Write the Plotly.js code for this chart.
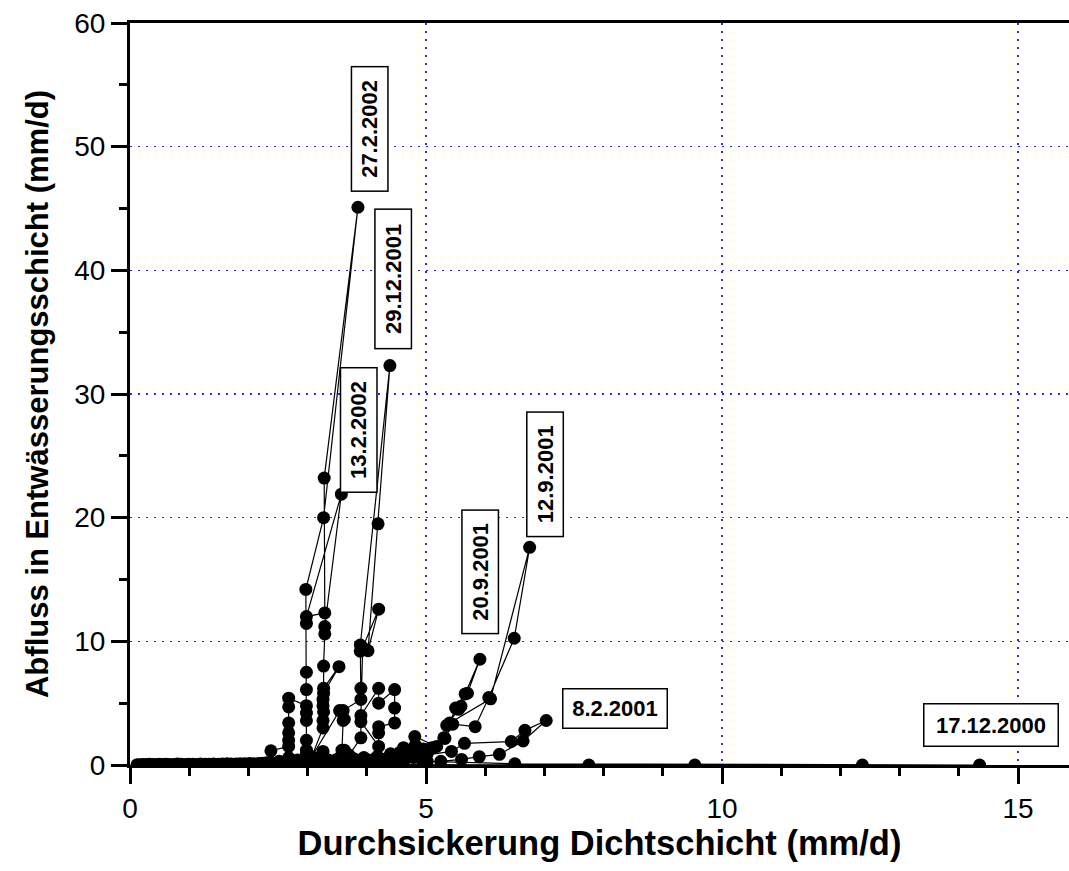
<!DOCTYPE html>
<html>
<head>
<meta charset="utf-8">
<script src="https://cdn.plot.ly/plotly-3.0.1.min.js"></script>
<style>
html, body { margin: 0; padding: 0; background: #ffffff; }
#chart { width: 1069px; height: 871px; }
</style>
</head>
<body>
<div id="chart"></div>
<script>
// ---- data ----
// x: Durchsickerung Dichtschicht (mm/d), y: Abfluss in Entwässerungsschicht (mm/d)
const winterX = [0.12, 0.17, 0.22, 0.28, 0.33, 0.39, 0.45, 0.50, 0.56, 0.61, 0.67, 0.74, 0.80, 0.86, 0.93, 0.99, 1.06, 1.12, 1.19, 1.27, 1.34, 1.41, 1.49, 1.56, 1.64, 1.71, 1.79, 1.86, 1.94, 2.02, 2.09, 2.17, 2.24, 2.31, 2.37];
const winterY = [0.02, 0.03, 0.05, 0.04, 0.06, 0.05, 0.04, 0.07, 0.05, 0.06, 0.04, 0.05, 0.08, 0.06, 0.05, 0.07, 0.06, 0.05, 0.08, 0.07, 0.06, 0.09, 0.07, 0.08, 0.10, 0.08, 0.09, 0.11, 0.10, 0.12, 0.10, 0.13, 0.15, 0.18, 0.20];

const dec2000X = [2.42, 4.95, 7.75, 9.54, 12.37, 14.35, 6.50, 5.02];
const dec2000Y = [0.05, 0.02, 0.00, 0.00, 0.00, 0.00, 0.10, 0.30];

const feb2001X = [4.55, 5.00, 5.43, 5.65, 6.44, 6.67, 7.03, 6.64, 6.24, 5.90, 5.60, 5.25];
const feb2001Y = [0.50, 0.80, 1.10, 1.75, 1.90, 2.80, 3.60, 1.95, 0.86, 0.67, 0.45, 0.30];

const sep2001X = [4.62, 4.81, 5.18, 5.32, 5.45, 5.83, 6.06, 6.49, 6.75, 6.09, 5.40, 5.35, 5.55, 5.59, 5.70, 5.91, 5.66, 5.50, 5.30, 5.10, 4.90];
const sep2001Y = [0.90, 2.30, 1.50, 2.15, 3.30, 3.10, 5.45, 10.25, 17.60, 5.35, 3.40, 3.20, 4.50, 4.75, 5.80, 8.55, 5.75, 4.60, 2.20, 1.40, 1.00];

const dec2001X = [3.30, 3.58, 3.60, 3.60, 3.90, 3.90, 3.89, 3.89, 4.39, 4.19, 4.02, 4.20, 3.93, 3.90, 4.20, 4.20, 4.47, 4.47, 4.47, 4.20, 4.20, 4.20, 3.90, 3.90, 3.70];
const dec2001Y = [0.50, 1.20, 3.60, 4.40, 5.30, 6.20, 9.20, 9.70, 32.30, 19.50, 9.24, 12.60, 9.50, 4.00, 6.20, 5.00, 6.10, 4.60, 3.40, 3.10, 2.60, 1.50, 3.50, 2.20, 0.80];

const feb2002X = [2.38, 2.68, 2.68, 2.68, 2.68, 2.68, 2.98, 2.98, 2.98, 2.98, 2.98, 2.98, 2.98, 2.98, 2.97, 3.27, 3.85, 3.28, 3.29, 2.98, 3.57, 3.29, 3.29, 3.27, 3.27, 3.53, 3.27, 3.26, 3.26, 3.27, 3.26, 3.26, 3.07, 3.54, 3.62];
const feb2002Y = [1.15, 1.50, 2.60, 3.40, 4.70, 5.40, 4.80, 4.20, 3.60, 2.00, 1.20, 6.10, 7.50, 11.45, 14.20, 20.00, 45.10, 23.20, 12.30, 12.00, 21.90, 11.20, 10.60, 8.00, 6.20, 7.95, 5.80, 5.30, 4.80, 4.30, 3.60, 3.00, 0.67, 4.40, 3.70];

const lowX = [2.45, 2.52, 2.60, 2.68, 2.68, 2.75, 2.83, 2.90, 2.98, 3.05, 3.15, 3.26, 3.35, 3.45, 3.55, 3.62, 3.70, 3.78, 3.86, 3.95, 4.03, 4.10, 4.18, 4.26, 4.33, 4.40, 4.48, 4.55, 4.62, 4.68, 4.75, 4.82, 4.88, 4.95, 5.02];
const lowY = [0.10, 0.30, 0.20, 2.00, 0.60, 0.20, 0.40, 0.30, 0.80, 0.20, 0.30, 1.10, 0.40, 0.20, 0.50, 1.20, 0.30, 0.50, 0.20, 0.60, 0.40, 0.30, 0.70, 0.40, 0.50, 0.90, 0.60, 1.00, 1.40, 0.80, 1.20, 1.60, 1.10, 1.30, 0.90];

const low2X = [2.50, 2.58, 2.72, 2.80, 2.88, 2.95, 3.02, 3.10, 3.20, 3.30, 3.40, 3.48, 3.58, 3.66, 3.74, 3.82, 3.90, 3.98, 4.06, 4.14, 4.22, 4.30, 4.37, 4.44, 4.52, 4.58, 4.65, 4.72, 4.79, 4.86, 4.92, 4.99];
const low2Y = [0.05, 0.15, 0.10, 0.25, 0.10, 0.20, 0.45, 0.15, 0.60, 0.25, 0.15, 0.35, 0.10, 0.70, 0.20, 0.40, 0.15, 0.30, 0.20, 0.50, 0.15, 0.30, 0.60, 0.25, 0.40, 0.70, 0.50, 0.90, 0.60, 1.00, 0.70, 0.50];

const labelTexts = ["27.2.2002", "29.12.2001", "13.2.2002", "20.9.2001", "12.9.2001", "8.2.2001", "17.12.2000"];
const xTitle = "Durchsickerung Dichtschicht (mm/d)";
const yTitle = "Abfluss in Entwässerungsschicht (mm/d)";

// ---- traces ----
const chains = [
  [winterX, winterY], [dec2000X, dec2000Y], [feb2001X, feb2001Y], [sep2001X, sep2001Y],
  [lowX, lowY], [low2X, low2Y], [dec2001X, dec2001Y], [feb2002X, feb2002Y]
];
const traces = chains.map(c => ({
  type: 'scatter', mode: 'lines+markers', x: c[0], y: c[1],
  line: { color: '#000000', width: 1.2 },
  marker: { color: '#000000', size: 13 },
  cliponaxis: true, hoverinfo: 'skip', showlegend: false
}));

const FAM = 'Arial, "Liberation Sans", sans-serif';
const tickFont = { family: FAM, size: 28, color: '#000000' };
const xTitleFont = { family: FAM, size: 34.5, color: '#000000', weight: 'bold' };
const yTitleFont = { family: FAM, size: 31, color: '#000000', weight: 'bold' };
const labelFont = { family: FAM, size: 22, color: '#000000', weight: 'bold' };

function vLabel(text, x, y, len) {
  return { text: '<b>' + text + '</b>', x: x, y: y, xref: 'x', yref: 'y', showarrow: false,
    textangle: -90, font: labelFont, bordercolor: '#000000', borderwidth: 1.5, borderpad: 1,
    bgcolor: '#ffffff', width: len, height: 33, align: 'center', valign: 'middle' };
}
function hLabel(text, x, y, w, h) {
  return { text: '<b>' + text + '</b>', x: x, y: y, xref: 'x', yref: 'y', showarrow: false,
    font: labelFont, bordercolor: '#000000', borderwidth: 1.5, borderpad: 1,
    bgcolor: '#ffffff', width: w, height: h, align: 'center', valign: 'middle' };
}

const gridStyle = { showgrid: true, gridcolor: '#2a2aff', griddash: '2px,6px', gridwidth: 1.5, zeroline: false };

const layout = {
  width: 1069, height: 871,
  margin: { l: 130, r: 0, t: 23, b: 106, pad: 0 },
  paper_bgcolor: '#ffffff', plot_bgcolor: '#ffffff',
  showlegend: false,
  xaxis: Object.assign({
    range: [0, 15.86], tick0: 0, dtick: 5, ticks: 'outside', ticklen: 16, tickwidth: 3, tickcolor: '#000000',
    showline: true, linewidth: 3, linecolor: '#000000', mirror: true,
    minor: { dtick: 1, ticks: 'outside', ticklen: 8, tickwidth: 3, tickcolor: '#000000', showgrid: false },
    tickfont: tickFont,
    title: { text: '<b>' + xTitle + '</b>', font: xTitleFont, standoff: 0 }
  }, gridStyle),
  yaxis: Object.assign({
    range: [0, 60], tick0: 0, dtick: 10, ticks: 'outside', ticklen: 16, tickwidth: 3, tickcolor: '#000000',
    showline: true, linewidth: 3, linecolor: '#000000', mirror: false,
    minor: { dtick: 5, ticks: 'outside', ticklen: 8, tickwidth: 3, tickcolor: '#000000', showgrid: false },
    tickfont: tickFont,
    title: { text: '<b>' + yTitle + '</b>', font: yTitleFont, standoff: 17 }
  }, gridStyle),
  annotations: [
    vLabel(labelTexts[0], 4.042, 51.46, 121),
    vLabel(labelTexts[1], 4.447, 39.29, 136),
    vLabel(labelTexts[2], 3.857, 27.12, 121),
    vLabel(labelTexts[3], 5.916, 15.60, 120),
    vLabel(labelTexts[4], 7.004, 23.48, 121),
    hLabel(labelTexts[5], 8.194, 4.53, 101, 36),
    hLabel(labelTexts[6], 14.54, 3.27, 131, 39)
  ]
};

Plotly.newPlot('chart', traces, layout, { staticPlot: true, displayModeBar: false });
</script>
</body>
</html>
